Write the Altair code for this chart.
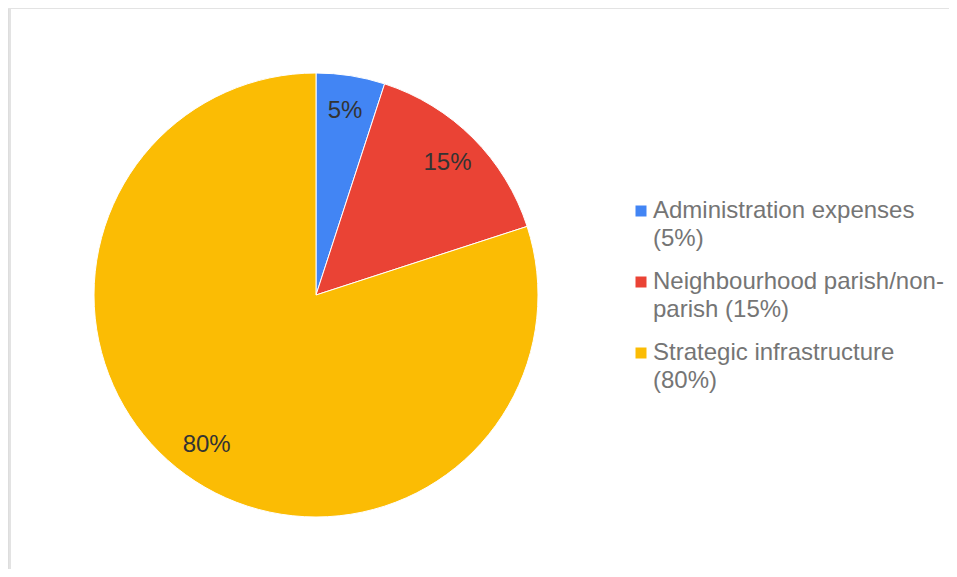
import altair as alt
import pandas as pd

categories = ["Administration expenses", "Neighbourhood parish/non-parish", "Strategic infrastructure"]
values = [5, 15, 80]
legend_text = ["Administration expenses|(5%)", "Neighbourhood parish/non-|parish (15%)", "Strategic infrastructure|(80%)"]
slice_labels = ["5%", "15%", "80%"]
colors = ["#4285F4", "#EA4335", "#FBBC04"]
order = [0, 1, 2]

df = pd.DataFrame({
    "category": categories,
    "value": values,
    "legend": legend_text,
    "label": slice_labels,
    "order": order,
})

FONT = "Arial, Liberation Sans, sans-serif"
W, H = 941, 561

base = alt.Chart(df).encode(
    theta=alt.Theta("value:Q", stack=True),
    order=alt.Order("order:Q"),
    x=alt.value(308),
    y=alt.value(287),
)

pie = base.mark_arc(outerRadius=222, stroke="white", strokeWidth=1).encode(
    color=alt.Color(
        "legend:N",
        scale=alt.Scale(domain=legend_text, range=colors),
        sort=legend_text,
        legend=alt.Legend(
            title=None,
            orient="none",
            legendX=621,
            legendY=191,
            padding=0,
            symbolType="square",
            symbolSize=121,
            symbolStrokeWidth=0,
            labelFont=FONT,
            labelFontSize=24,
            labelColor="#757575",
            labelOffset=0,
            labelLimit=400,
            rowPadding=19,
            labelExpr="split(datum.label, '|')",
        ),
    )
)

text = base.mark_text(radius=186, font=FONT, fontSize=24, color="#333333").encode(
    text="label:N"
)

frame_df = pd.DataFrame({"frame": [0]})
top_edge = alt.Chart(frame_df).mark_rule(color="#e3e3e3", strokeWidth=2).encode(
    x=alt.value(0), x2=alt.value(W), y=alt.value(0)
)
left_edge = alt.Chart(frame_df).mark_rule(color="#e3e3e3", strokeWidth=2).encode(
    x=alt.value(2), y=alt.value(0), y2=alt.value(H)
)

chart = (
    alt.layer(pie, text, top_edge, left_edge)
    .properties(width=W, height=H, padding=0, autosize=alt.AutoSizeParams(type="none"), background="white")
    .configure_view(stroke=None)
    .configure(style={"guide-label": {"lineHeight": 28}})
)

chart.save("out.html", embed_options={"renderer": "svg", "actions": False})
